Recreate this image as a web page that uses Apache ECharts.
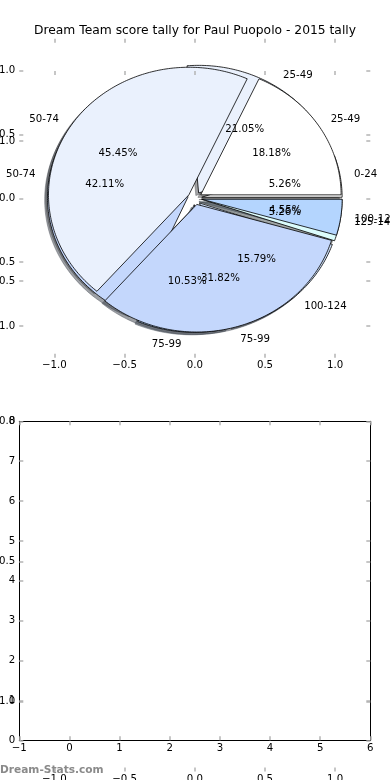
<!DOCTYPE html>
<html><head><meta charset="utf-8">
<script src="https://cdn.jsdelivr.net/npm/echarts@6/dist/echarts.min.js"></script>
<style>html,body{margin:0;padding:0;background:#fff}#c{width:390px;height:780px}</style>
</head><body><div id="c"></div>
<script>
const titleText = 'Dream Team score tally for Paul Puopolo - 2015 tally';
const pieACategories = ['0-24', '25-49', '50-74', '75-99', '100-124', '125-149'];
const pieAValues = [1, 4, 8, 2, 3, 1];
const pieBCategories = ['25-49', '50-74', '75-99', '100-124'];
const pieBValues = [4, 10, 7, 1];
const sliceColors = ['#ffffff', '#eaf1fd', '#c4d7fc', '#b4d5fe', '#d0e2fb', '#dcfcfc'];
const pieTicks = [-1.0, -0.5, 0.0, 0.5, 1.0];
const bottomXTicks = [-1, 0, 1, 2, 3, 4, 5, 6];
const bottomYTicks = [0, 1, 2, 3, 4, 5, 6, 7, 8];
const watermarkText = 'Dream-Stats.com';

const EXPLODE = 0.05, LABEL_DIST = 1.1, PCT_DIST = 0.6, SHADOW = [-0.02, -0.02];
const FONT = '"DejaVu Sans", "Noto Sans", sans-serif';
const FS = 10.2;

function geom(values, i) {
  const total = values.reduce((a, b) => a + b, 0);
  let s = 0; for (let k = 0; k < i; k++) s += values[k];
  const t1 = s / total * 360, t2 = (s + values[i]) / total * 360;
  const tm = (t1 + t2) / 2 * Math.PI / 180;
  return { t1, t2, tm, cx: EXPLODE * Math.cos(tm), cy: EXPLODE * Math.sin(tm), pct: values[i] / total * 100 };
}
function wedgePts(api, g, ox, oy) {
  const pts = [api.coord([g.cx + ox, g.cy + oy])];
  const n = Math.max(2, Math.ceil(g.t2 - g.t1));
  for (let k = 0; k <= n; k++) {
    const a = (g.t1 + (g.t2 - g.t1) * k / n) * Math.PI / 180;
    pts.push(api.coord([g.cx + ox + Math.cos(a), g.cy + oy + Math.sin(a)]));
  }
  return pts;
}
function shadowColor(hex) {
  const r = parseInt(hex.slice(1, 3), 16), gg = parseInt(hex.slice(3, 5), 16), b = parseInt(hex.slice(5, 7), 16);
  return 'rgba(' + Math.round(r * .3) + ',' + Math.round(gg * .3) + ',' + Math.round(b * .3) + ',0.5)';
}
function shadowSeries(values) {
  return { type: 'custom', xAxisIndex: 0, yAxisIndex: 0, z: 1, silent: true, animation: false,
    data: values.map((v, i) => [i, v]),
    renderItem: (p, api) => {
      const g = geom(values, p.dataIndex);
      const c = shadowColor(sliceColors[p.dataIndex]);
      return { type: 'polygon', shape: { points: wedgePts(api, g, SHADOW[0], SHADOW[1]) },
        style: { fill: c, stroke: c, lineWidth: 0.8 } };
    } };
}
function wedgeSeries(values, z) {
  return { type: 'custom', xAxisIndex: 0, yAxisIndex: 0, z, silent: true, animation: false,
    data: values.map((v, i) => [i, v]),
    renderItem: (p, api) => {
      const g = geom(values, p.dataIndex);
      return { type: 'polygon', shape: { points: wedgePts(api, g, 0, 0) },
        style: { fill: sliceColors[p.dataIndex], stroke: '#000', lineWidth: 0.8 } };
    } };
}
function labelSeries(values, cats, z) {
  return { type: 'custom', xAxisIndex: 0, yAxisIndex: 0, z, silent: true, animation: false,
    data: values.map((v, i) => [i, v]),
    renderItem: (p, api) => {
      const g = geom(values, p.dataIndex);
      const c = Math.cos(g.tm), s = Math.sin(g.tm);
      const lp = api.coord([g.cx + LABEL_DIST * c, g.cy + LABEL_DIST * s]);
      const pp = api.coord([g.cx + PCT_DIST * c, g.cy + PCT_DIST * s]);
      const xt = g.cx + LABEL_DIST * c;
      return { type: 'group', children: [
        { type: 'text', x: lp[0], y: lp[1], style: { text: cats[p.dataIndex], fill: '#000', fontFamily: FONT, fontSize: FS,
          align: xt > 0 ? 'left' : 'right', verticalAlign: 'middle' } },
        { type: 'text', x: pp[0], y: pp[1], style: { text: g.pct.toFixed(2) + '%', fill: '#000', fontFamily: FONT, fontSize: FS,
          align: 'center', verticalAlign: 'middle' } }
      ] };
    } };
}
const minus = v => (v < 0 ? '\u2212' : '') + Math.abs(v);
const fmt1 = v => (v < 0 ? '\u2212' : '') + Math.abs(v).toFixed(1);
function ax(gridIndex, position, min, max, ticks, labels, fmt, line, margin) {
  return { type: 'value', gridIndex, position, min, max, z: 5,
    axisLine: { show: line, onZero: false, lineStyle: { color: '#000', width: 1 } },
    axisTick: { show: true, inside: true, length: 4, customValues: ticks, lineStyle: { color: '#b4b4b4', width: 1.5 } },
    axisLabel: { show: labels, customValues: ticks, formatter: fmt, margin, color: '#000', fontFamily: FONT, fontSize: FS },
    splitLine: { show: false } };
}
const gridBase = { containLabel: false, outerBoundsMode: 'none' };
const option = {
  backgroundColor: '#fff',
  animation: false,
  title: { text: titleText, left: 'center', top: 20, textStyle: { fontFamily: FONT, fontSize: 12.3, fontWeight: 'normal', color: '#000' } },
  grid: [
    Object.assign({ left: 19.3, top: 38.8, width: 351, height: 319 }, gridBase),
    Object.assign({ left: 19.3, top: 71, width: 351, height: 700.5 }, gridBase),
    Object.assign({ left: 19.3, top: 421.3, width: 351, height: 319 }, gridBase)
  ],
  xAxis: [
    ax(0, 'bottom', -1.25, 1.25, pieTicks, true, fmt1, false, 3),
    ax(0, 'top', -1.25, 1.25, pieTicks, false, fmt1, false, 3),
    ax(1, 'bottom', -1.25, 1.25, pieTicks, true, fmt1, false, 3),
    ax(1, 'top', -1.25, 1.25, pieTicks, false, fmt1, false, 3),
    ax(2, 'bottom', -1, 6, bottomXTicks, true, minus, true, 3),
    ax(2, 'top', -1, 6, bottomXTicks, false, minus, true, 3)
  ],
  yAxis: [
    ax(0, 'left', -1.25, 1.25, pieTicks, true, fmt1, false, 4),
    ax(0, 'right', -1.25, 1.25, pieTicks, false, fmt1, false, 4),
    ax(1, 'left', -1.25, 1.25, pieTicks, true, fmt1, false, 4),
    ax(1, 'right', -1.25, 1.25, pieTicks, false, fmt1, false, 4),
    ax(2, 'left', 0, 8, bottomYTicks, true, minus, true, 4),
    ax(2, 'right', 0, 8, bottomYTicks, false, minus, true, 4)
  ],
  series: [
    shadowSeries(pieAValues),
    shadowSeries(pieBValues),
    wedgeSeries(pieAValues, 2),
    wedgeSeries(pieBValues, 3),
    labelSeries(pieAValues, pieACategories, 8),
    labelSeries(pieBValues, pieBCategories, 9)
  ],
  graphic: [
    { type: 'text', left: 0, top: 765, z: 10, style: { text: watermarkText, fill: '#8a8a8a', fontFamily: FONT, fontSize: 10.6, fontWeight: 'bold' } }
  ]
};
const chart = echarts.init(document.getElementById('c'), null, { renderer: 'canvas' });
chart.setOption(option);
</script></body></html>
